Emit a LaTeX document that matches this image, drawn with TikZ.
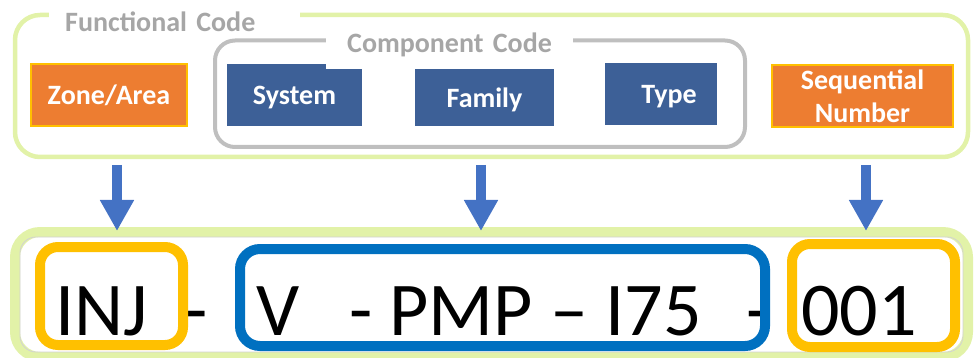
\documentclass[tikz,border=0pt]{standalone}
\usepackage{fontspec}
\setmainfont{Carlito}
\usetikzlibrary{arrows.meta, positioning, calc}
\definecolor{framegreen}{RGB}{226,242,168}
\definecolor{framegray}{RGB}{191,191,191}
\definecolor{titlegray}{RGB}{166,166,166}
\definecolor{zoneorange}{RGB}{237,125,49}
\definecolor{codeyellow}{RGB}{255,192,0}
\definecolor{compblue}{RGB}{61,96,151}
\definecolor{arrowblue}{RGB}{68,114,196}
\definecolor{codeblue}{RGB}{0,112,192}

\tikzset{
  labeltext/.style={font=\bfseries\fontsize{28}{33}\selectfont},
  orangebox/.style={labeltext, draw=codeyellow, line width=1.5pt, fill=zoneorange, text=white, inner sep=0pt, align=center},
  bluebox/.style={labeltext, fill=compblue, text=white, inner sep=0pt, text depth=0pt},
  grouptitle/.style={labeltext, text=titlegray, fill=white, anchor=base west, align=left},
  codetext/.style={font=\fontsize{76}{90}\selectfont, inner sep=0pt, anchor=base west},
  codeframe/.style={line width=10pt, rounded corners=18pt, inner sep=0pt},
  downarrow/.style={arrowblue, line width=10pt, -{Triangle[length=31pt, width=32pt]}}
}

\begin{document}
\begin{tikzpicture}[x=1pt, y=-1pt]
    \useasboundingbox (0,0) rectangle (974,358);

    % Functional code frame
    \node[draw=framegreen, line width=4.5pt, rounded corners=25pt, minimum width=953pt, minimum height=142pt] (func) at (491.5,86) {};
    % Component code frame
    \node[draw=framegray, line width=4pt, rounded corners=20pt, minimum width=530pt, minimum height=106.5pt] (comp) at (480,93.75) {};

    % Parts of the code
    \node[orangebox, text depth=0pt, minimum width=156pt, minimum height=62pt] (zone) at (109,95) {Zone/Area};
    \node[bluebox, minimum width=135pt, minimum height=62pt] (sys) at (294.5,95) {System\hspace{28pt}};
    \node[bluebox, minimum width=139pt, minimum height=57pt] (fam) at (484.5,97.5) {Family};
    \node[bluebox, minimum width=112pt, minimum height=62pt] (type) at (661,94) {\hspace{16pt}Type};
    \node[orangebox, minimum width=181pt, minimum height=62pt] (seq) at (862.5,96) {Sequential\\Number};

    % Frame titles
    \node[grouptitle, text width=219pt, inner xsep=16pt, inner ysep=3pt] (functitle) at (49,32) {Functional Code};
    \node[grouptitle, text width=215pt, inner xsep=16pt, inner ysep=0pt, text depth=16pt] (comptitle) at (326,53) {\hspace{5pt}Component Code};

    % Example code
    \node[draw=framegreen, fill=white, line width=10pt, rounded corners=25pt, minimum width=953pt, minimum height=125pt] (code) at (491.5,294.5) {};
    \draw[framegray!70, line width=0.8pt, rounded corners=16pt] ([shift={(10,10)}]code.north west) rectangle ([shift={(-10,-10)}]code.south east);

    \node[codetext] (inj) at (55,335) {INJ};
    \node[codetext] (dash1) at (184,335) {-};
    \node[codetext] (sysv) at (256,335) {V};
    \node[codetext] (pmp) at (349,335) {- PMP -- I75};
    \node[codetext] (dash2) at (746,335) {-};
    \node[codetext] (num) at (801,335) {001};

    \node[codeframe, draw=codeyellow, minimum width=143pt, minimum height=98pt] (injbox) at (111.5,296) {};
    \node[codeframe, draw=codeblue, rounded corners=20pt, minimum width=525pt, minimum height=97pt] (compbox) at (502.5,297.5) {};
    \node[codeframe, draw=codeyellow, minimum width=163pt, minimum height=103pt] (numbox) at (873.5,295.5) {};

    % Arrows
    \coordinate (a1) at (117,165);
    \coordinate (a2) at (481,165);
    \coordinate (a3) at (866,165);
    \foreach \a in {a1,a2,a3}
        \draw[downarrow] (\a) -- ([yshift=-4pt]\a |- code.north);

\end{tikzpicture}
\end{document}
